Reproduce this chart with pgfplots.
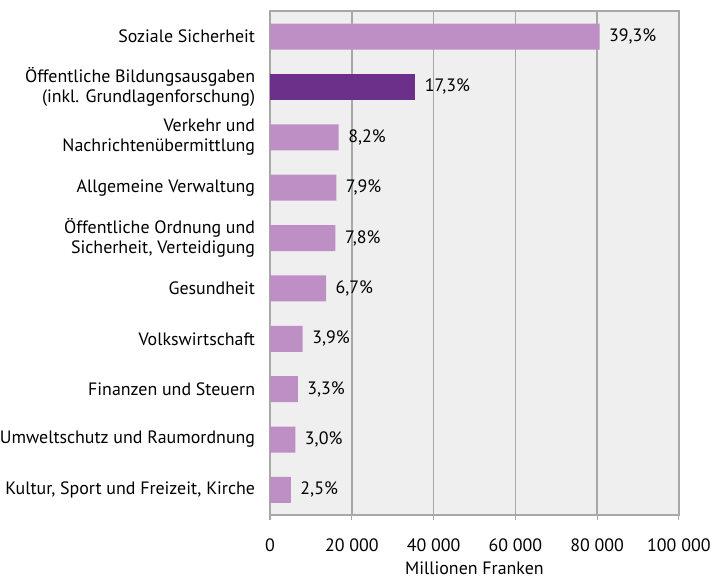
\documentclass[border=0pt]{standalone}
\usepackage{pgfplots}
\pgfplotsset{compat=1.18}
\usepackage{fontspec}
\setmainfont{PT Sans}
\definecolor{barlight}{HTML}{BD8FC4}
\definecolor{bardark}{HTML}{6C2F8A}
\definecolor{plotbg}{HTML}{EFEFEF}
\definecolor{gridgray}{HTML}{A8A8A8}
\newcommand{\lblfont}{\fontsize{13.4}{15}\selectfont}

\begin{document}
\begin{tikzpicture}
\begin{axis}[
  scale only axis,
  width=306pt, height=377pt,
  xbar, bar width=19.5pt,
  xmin=0, xmax=100000,
  ymin=-0.5, ymax=9.5, y dir=reverse,
  scaled x ticks=false,
  xtick={0,20000,40000,60000,80000,100000},
  xticklabels={0,20 000,40 000,60 000,80 000,100 000},
  ytick={0,1,2,3,4,5,6,7,8,9},
  yticklabels={
    Soziale Sicherheit,
    {Öffentliche Bildungsausgaben\\(inkl. Grundlagenforschung)},
    {Verkehr und\\Nachrichtenübermittlung},
    Allgemeine Verwaltung,
    {Öffentliche Ordnung und\\Sicherheit, Verteidigung},
    Gesundheit,
    Volkswirtschaft,
    Finanzen und Steuern,
    Umweltschutz und Raumordnung,
    {Kultur, Sport und Freizeit, Kirche}},
  yticklabel style={align=right, font=\lblfont, inner sep=0pt, xshift=-7pt},
  ytick style={draw=none},
  xticklabel style={font=\lblfont, yshift=-10pt},
  tick pos=bottom,
  xtick style={gridgray, line width=0.9pt},
  major tick length=4pt,
  tick align=outside,
  xmajorgrids,
  grid style={gridgray, line width=1.2pt},
  axis line style={gridgray, line width=1.3pt},
  axis background/.style={fill=plotbg},
  xlabel={Millionen Franken},
  xlabel style={font=\lblfont, yshift=-1pt},
  point meta=explicit symbolic,
  nodes near coords,
  nodes near coords style={font=\lblfont, anchor=west, inner sep=0pt, xshift=7pt},
]
\addplot[fill=barlight, draw=none, bar shift=0pt] coordinates {
  (80600,0) [39,3\%]
  (16800,2) [8,2\%]
  (16200,3) [7,9\%]
  (16000,4) [7,8\%]
  (13700,5) [6,7\%]
  (8000,6) [3,9\%]
  (6800,7) [3,3\%]
  (6200,8) [3,0\%]
  (5100,9) [2,5\%]
};
\addplot[fill=bardark, draw=none, bar shift=0pt] coordinates {
  (35500,1) [17,3\%]
};
\coordinate (plottop) at (rel axis cs:0.5,1);
\end{axis}
\path (plottop) ++(0,8.5pt);
\end{tikzpicture}
\end{document}
